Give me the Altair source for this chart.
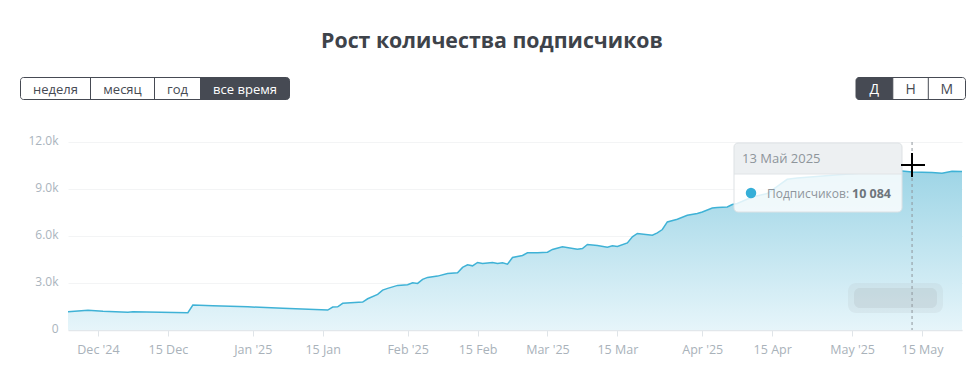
import altair as alt
import pandas as pd

# ---------------- data ----------------
dates = ["2024-11-25", "2024-11-29", "2024-12-02", "2024-12-07", "2024-12-08", "2024-12-19",
         "2024-12-20", "2024-12-24", "2024-12-31", "2025-01-07", "2025-01-16", "2025-01-17",
         "2025-01-18", "2025-01-19", "2025-01-23", "2025-01-24", "2025-01-26", "2025-01-27",
         "2025-01-28", "2025-01-30", "2025-02-01", "2025-02-02", "2025-02-03", "2025-02-04",
         "2025-02-05", "2025-02-07", "2025-02-09", "2025-02-11", "2025-02-12", "2025-02-13",
         "2025-02-14", "2025-02-15", "2025-02-16", "2025-02-18", "2025-02-19", "2025-02-20",
         "2025-02-21", "2025-02-22", "2025-02-24", "2025-02-25", "2025-02-27", "2025-03-01",
         "2025-03-02", "2025-03-04", "2025-03-07", "2025-03-08", "2025-03-09", "2025-03-11",
         "2025-03-13", "2025-03-14", "2025-03-15", "2025-03-17", "2025-03-18", "2025-03-19",
         "2025-03-22", "2025-03-23", "2025-03-24", "2025-03-25", "2025-03-27", "2025-03-29",
         "2025-03-31", "2025-04-01", "2025-04-03", "2025-04-04", "2025-04-06", "2025-04-07",
         "2025-04-08", "2025-04-11", "2025-04-14", "2025-04-18", "2025-04-20", "2025-04-27",
         "2025-05-03", "2025-05-06", "2025-05-10", "2025-05-13", "2025-05-17", "2025-05-19",
         "2025-05-21", "2025-05-23"]
subscribers = [1166, 1255, 1191, 1127, 1166, 1102,
               1593, 1548, 1484, 1382, 1274, 1465,
               1484, 1701, 1784, 1994, 2274, 2548,
               2656, 2847, 2886, 3013, 2975, 3230,
               3357, 3440, 3612, 3650, 3994, 4160,
               4096, 4312, 4249, 4312, 4249, 4287,
               4204, 4631, 4758, 4924, 4924, 4969,
               5141, 5306, 5160, 5204, 5459, 5395,
               5287, 5370, 5332, 5561, 5943, 6160,
               6052, 6198, 6415, 6899, 7071, 7326,
               7434, 7536, 7790, 7816, 7854, 8007,
               8071, 8490, 8708, 9619, 9701, 9874,
               10020, 10148, 10173, 10084, 10046, 10001,
               10128, 10120]

y_ticks = [0, 3000, 6000, 9000, 12000]
x_tick_dates = ["2024-12-01", "2024-12-15", "2025-01-01", "2025-01-15", "2025-02-01",
                "2025-02-15", "2025-03-01", "2025-03-15", "2025-04-01", "2025-04-15",
                "2025-05-01", "2025-05-15"]
x_domain = ["2024-11-25", "2025-05-23"]

title_text = "Рост количества подписчиков"
range_buttons = ["неделя", "месяц", "год", "все время"]
step_buttons = ["Д", "Н", "М"]
hover_date = "2025-05-13"
hover_label = "13 Май 2025"
hover_series = "Подписчиков:"
hover_value = 10084

# ---------------- helpers ----------------
FONT = "Open Sans"
W, H = 894, 188


def ms(d):
    return int(pd.Timestamp(d, tz="UTC").value // 10**6)


df = pd.DataFrame({"date": dates, "value": subscribers})
one = pd.DataFrame({"k": [0]})

x_enc = alt.X(
    "date:T",
    scale=alt.Scale(type="utc", domain=[ms(x_domain[0]), ms(x_domain[1])], nice=False),
    axis=alt.Axis(
        values=[ms(d) for d in x_tick_dates],
        labelExpr="utcFormat(datum.value, '%d') == '01' ? utcFormat(datum.value, \"%b '%y\") : utcFormat(datum.value, '%d %b')",
        grid=False, domainColor="#e2e7eb", domainWidth=1.5, tickColor="#dfe4e8",
        tickSize=6, labelPadding=7, labelColor="#a9b2ba", labelFontSize=12.5,
        labelFont=FONT, title=None,
    ),
)
y_enc = alt.Y(
    "value:Q",
    scale=alt.Scale(domain=[0, 12000], nice=False),
    axis=alt.Axis(
        values=y_ticks,
        labelExpr="datum.value == 0 ? '0' : format(datum.value / 1000, '.1f') + 'k'",
        grid=True, gridColor="#f3f4f5", domain=False, ticks=False,
        labelColor="#aab4bd", labelFontSize=12, labelFont=FONT, labelPadding=10,
        labelOffset=-2, title=None,
    ),
)

area = alt.Chart(df).mark_area(
    interpolate="linear",
    color=alt.Gradient(
        gradient="linear",
        stops=[alt.GradientStop(color="#e6f5fa", offset=0),
               alt.GradientStop(color="#9ed5e6", offset=1)],
        x1=1, x2=1, y1=1, y2=0,
    ),
).encode(x=x_enc, y=y_enc)

line = alt.Chart(df).mark_line(color="#3fb2d6", strokeWidth=1.5).encode(x="date:T", y="value:Q")

hover_rule = alt.Chart(pd.DataFrame({"date": [hover_date]})).mark_rule(
    color="#8f969c", strokeDash=[3, 3], strokeWidth=1
).encode(x="date:T", y=alt.value(0), y2=alt.value(H))


def rect(x0, x1, y0, y1, **kw):
    return alt.Chart(one).mark_rect(**kw).encode(
        x=alt.value(x0), x2=alt.value(x1), y=alt.value(y0), y2=alt.value(y1))


def rule(x0, x1, y0, y1, **kw):
    return alt.Chart(one).mark_rule(**kw).encode(
        x=alt.value(x0), x2=alt.value(x1), y=alt.value(y0), y2=alt.value(y1))


def text(x, y, s, **kw):
    return alt.Chart(pd.DataFrame({"t": [s]})).mark_text(font=FONT, **kw).encode(
        x=alt.value(x), y=alt.value(y), text="t:N")


# blurred watermark (soft, layered to imitate the blur)
watermark = [
    rect(780, 875, 141, 171, fill="#b4bcc2", opacity=0.18, cornerRadius=8),
    rect(786, 869, 146, 166, fill="#a9b1b8", opacity=0.22, cornerRadius=6),
]

# tooltip box
val_txt = f"{hover_value:,}".replace(",", " ")
tooltip = [
    rect(666, 834, 1, 70, fill="#ffffff", opacity=0.82, cornerRadius=4),
    rect(666, 834, 1, 32, fill="#eceff1", opacity=0.95, cornerRadiusTopLeft=4, cornerRadiusTopRight=4),
    rule(666, 834, 32, 32, color="#e0e4e7"),
    rect(666, 834, 1, 70, fill=None, stroke="#dde1e4", strokeWidth=1, cornerRadius=4),
    alt.Chart(one).mark_point(filled=True, size=110, color="#36afd8", opacity=1).encode(
        x=alt.value(683), y=alt.value(51)),
    text(674, 20.5, hover_label, align="left", baseline="alphabetic", fontSize=13, color="#8e959b"),
    text(699, 56, hover_series, align="left", baseline="alphabetic", fontSize=12, color="#8e959b"),
    text(823, 56, val_txt, align="right", baseline="alphabetic", fontSize=12.5, fontWeight="bold", color="#6d757c"),
]

# mouse cursor
cursor = [rule(833, 857, 23, 23, color="#000000", strokeWidth=2),
          rule(844, 844, 11, 35, color="#000000", strokeWidth=2)]

# title
title = text(424, -94, title_text, align="center", baseline="alphabetic",
             fontSize=21.3, fontWeight="bold", color="#3e434a")

# buttons
BY0, BY1, BTXT = -64.5, -42.5, -48.5
dark = "#464a53"
left_edges = [-47.5, 22.5, 86.5, 132.5, 221.5]
right_edges = [788, 824.8, 860.3, 897.5]
buttons = [
    rect(132.5, 221.5, BY0, BY1, fill=dark, cornerRadiusTopRight=3, cornerRadiusBottomRight=3),
    rect(788, 824.8, BY0, BY1, fill=dark, cornerRadiusTopLeft=3, cornerRadiusBottomLeft=3),
    rect(left_edges[0], left_edges[-1], BY0, BY1, fill=None, stroke=dark, strokeWidth=1, cornerRadius=3),
    rect(right_edges[0], right_edges[-1], BY0, BY1, fill=None, stroke=dark, strokeWidth=1, cornerRadius=3),
]
for e in left_edges[1:-1]:
    buttons.append(rule(e, e, BY0, BY1, color=dark, strokeWidth=1))
for e in right_edges[1:-1]:
    buttons.append(rule(e, e, BY0, BY1, color=dark, strokeWidth=1))
for i, lab in enumerate(range_buttons):
    cx = (left_edges[i] + left_edges[i + 1]) / 2
    col = "#ffffff" if i == len(range_buttons) - 1 else dark
    buttons.append(text(cx, BTXT, lab, align="center", baseline="alphabetic", fontSize=13, color=col))
for i, lab in enumerate(step_buttons):
    cx = (right_edges[i] + right_edges[i + 1]) / 2
    col = "#ffffff" if i == 0 else dark
    buttons.append(text(cx, BTXT, lab, align="center", baseline="alphabetic", fontSize=14, color=col))

chart = alt.layer(area, line, *watermark, hover_rule, *tooltip, *cursor, title, *buttons).properties(
    width=W, height=H,
    autosize=alt.AutoSizeParams(type="none"),
    padding={"left": 68, "top": 142, "right": 11, "bottom": 55},
    background="#ffffff",
).configure_view(stroke=None)

chart.save("out.html", embed_options={"renderer": "svg", "actions": False})
